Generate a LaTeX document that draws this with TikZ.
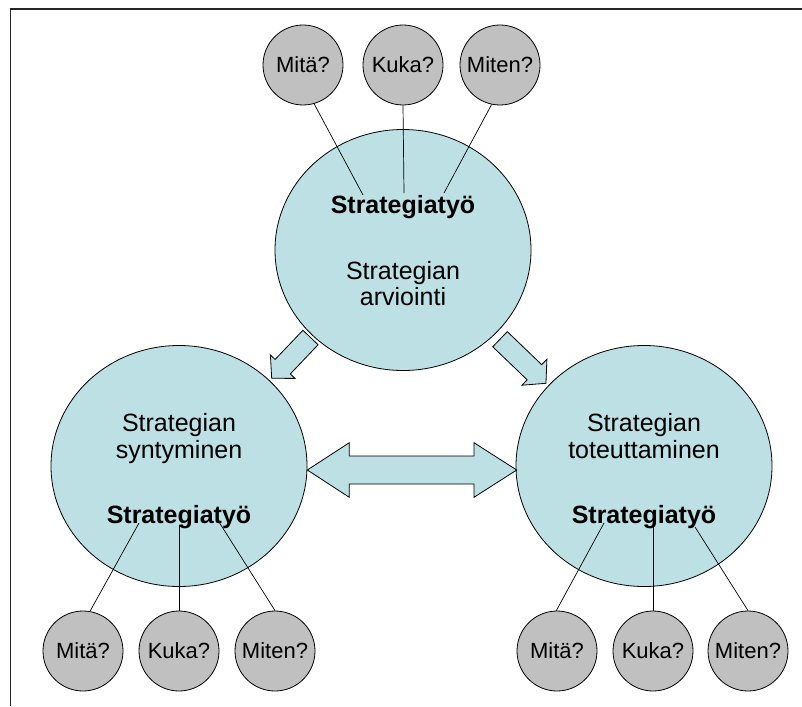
\documentclass[tikz,border=0pt]{standalone}
\usepackage{fontspec}
\setmainfont{Liberation Sans}
\usetikzlibrary{shapes.geometric}
\definecolor{tealfill}{RGB}{188,224,228}
\definecolor{greyfill}{RGB}{192,192,192}
\begin{document}
\begin{tikzpicture}[x=1pt,y=-1pt,
  big/.style={ellipse, draw=black, line width=0.8pt, fill=tealfill, inner sep=0pt, minimum width=256pt, minimum height=241pt},
  small/.style={circle, draw=black, line width=0.8pt, fill=greyfill, inner sep=0pt, minimum size=80pt, font=\fontsize{22}{26}\selectfont, text height=15.8pt, text depth=0pt},
  lbl/.style={anchor=base, inner sep=0pt, font=\fontsize{25}{30}\selectfont},
  blbl/.style={anchor=base, inner sep=0pt, font=\fontsize{25}{30}\selectfont\bfseries},
  link/.style={draw=black, line width=0.7pt},
  blockarrow/.style={draw=black, line width=0.8pt, fill=tealfill, line join=miter},
  frameline/.style={draw=black!85, line width=1.6pt}]
\useasboundingbox (0,0) rectangle (802,706);
% frame
\coordinate (f1) at (10.5,706);
\coordinate (f2) at (10.5,9);
\coordinate (f3) at (802,9);
\draw[frameline] (f1) -- (f2) -- (f3);
% big circles
\node[big] (top) at (403,250) {};
\node[big] (left) at (179,466) {};
\node[big] (right) at (644,466) {};
% block arrows
\begin{scope}[shift={(310.5,337.5)}, rotate=226.4]
  \draw[blockarrow] (0,-10.5) -- (40.3,-10.5) -- (40.3,-17) -- (56.3,0) -- (40.3,17) -- (40.3,10.5) -- (0,10.5) -- cycle;
\end{scope}
\begin{scope}[shift={(500,339.2)}, rotate=-43.8]
  \draw[blockarrow] (0,-10.5) -- (47.7,-10.5) -- (47.7,-18) -- (63.7,0) -- (47.7,18) -- (47.7,10.5) -- (0,10.5) -- cycle;
\end{scope}
\draw[blockarrow] (307.3,470) -- (349.3,442.7) -- (349.3,456) -- (474,456) -- (474,442.7) -- (516.7,470) -- (474,497.3) -- (474,484) -- (349.3,484) -- (349.3,497.3) -- cycle;
% small circles
\node[small] (tm1) at (303,65) {Mitä?};
\node[small] (tm2) at (403,65) {Kuka?};
\node[small] (tm3) at (500,65) {Miten?};
\node[small] (lm1) at (83,651) {Mitä?};
\node[small] (lm2) at (179,651) {Kuka?};
\node[small] (lm3) at (275,651) {Miten?};
\node[small] (rm1) at (557,651) {Mitä?};
\node[small] (rm2) at (653,651) {Kuka?};
\node[small] (rm3) at (748,651) {Miten?};
% line end points
\coordinate (a1) at (363,195);
\coordinate (a2) at (404,193);
\coordinate (a3) at (444,193);
\coordinate (b1) at (139,523);
\coordinate (b2) at (179,525);
\coordinate (b3) at (219,522);
\coordinate (c1) at (604,523);
\coordinate (c2) at (653,525);
\coordinate (c3) at (695,527);
\draw[link] (tm1.286.7) -- (a1);
\draw[link] (tm2.270) -- (a2);
\draw[link] (tm3.258.7) -- (a3);
\draw[link] (lm1.80) -- (b1);
\draw[link] (lm2.90) -- (b2);
\draw[link] (lm3.90) -- (b3);
\draw[link] (rm1.91) -- (c1);
\draw[link] (rm2.90) -- (c2);
\draw[link] (rm3.90) -- (c3);
% texts
\node[blbl] (t1) at (403,213) {Strategiatyö};
\node[lbl] (t2) at (403,279) {Strategian};
\node[lbl] (t3) at (403,305) {arviointi};
\node[lbl] (l1) at (179,431) {Strategian};
\node[lbl] (l2) at (179,458) {syntyminen};
\node[blbl] (l3) at (179,523.5) {Strategiatyö};
\node[lbl] (r1) at (644,431) {Strategian};
\node[lbl] (r2) at (644,458) {toteuttaminen};
\node[blbl] (r3) at (644,523.5) {Strategiatyö};
\end{tikzpicture}
\end{document}
